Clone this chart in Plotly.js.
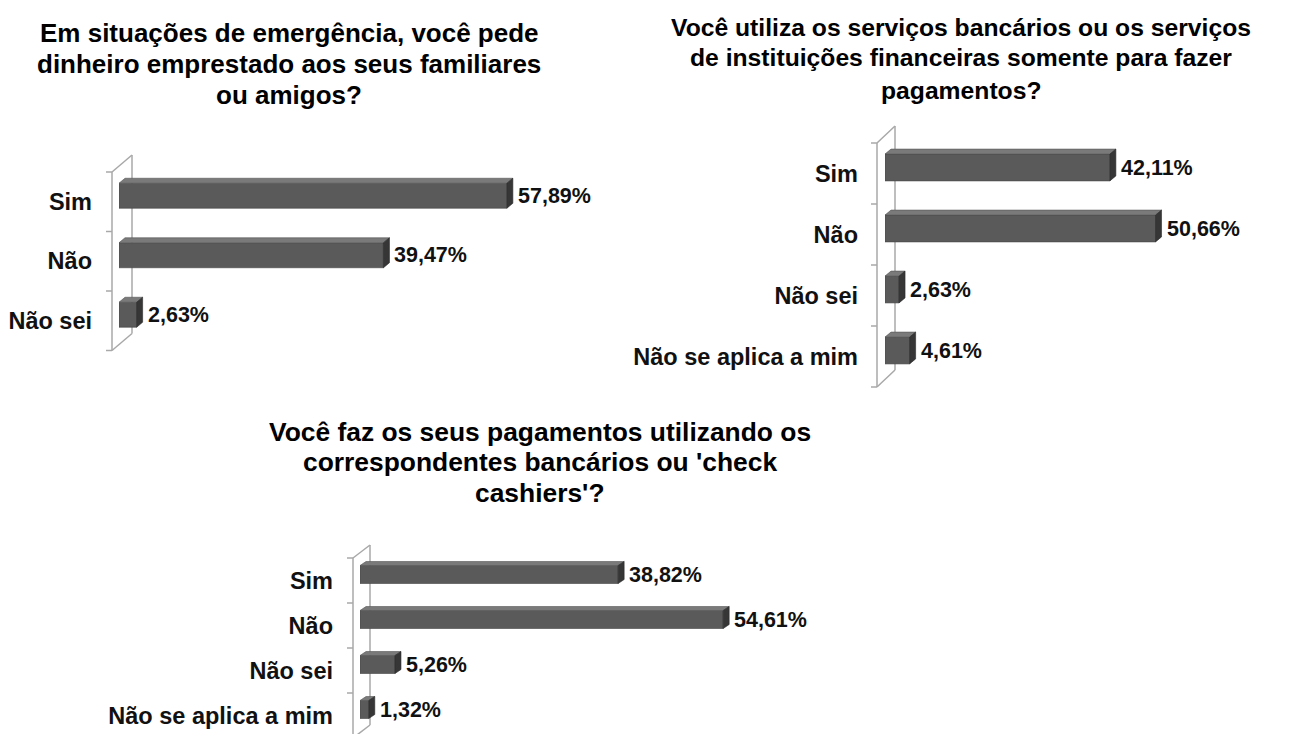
<!DOCTYPE html>
<html>
<head>
<meta charset="utf-8">
<script src="https://cdn.plot.ly/plotly-3.0.1.min.js"></script>
<style>html,body{margin:0;padding:0;background:#fff}#chart{width:1292px;height:734px}</style>
</head>
<body>
<div id="chart"></div>
<script>
// ---- data ----
const categories1 = ['Sim', 'Não', 'Não sei'];
const values1 = [57.89, 39.47, 2.63];
const title1 = ['Em situações de emergência, você pede', 'dinheiro emprestado aos seus familiares', 'ou amigos?'];

const categories2 = ['Sim', 'Não', 'Não sei', 'Não se aplica a mim'];
const values2 = [42.11, 50.66, 2.63, 4.61];
const title2 = ['Você utiliza os serviços bancários ou os serviços', 'de instituições financeiras somente para fazer', 'pagamentos?'];

const categories3 = ['Sim', 'Não', 'Não sei', 'Não se aplica a mim'];
const values3 = [38.82, 54.61, 5.26, 1.32];
const title3 = ['Você faz os seus pagamentos utilizando os', "correspondentes bancários ou 'check", "cashiers'?"];

// ---- layout geometry (pixels) ----
const W = 1292, H = 734;
const geo = [
  {x0: 119, pxPer: 6.70, w: 500, top: 166, catPx: 59.5, gap: 0.58, dx: 6, dy: 5,
   wf: [-7, 6], wb: [13, -11], tcx: 289, ty: [33, 64, 95], tsize: 26},
  {x0: 885, pxPer: 5.34, w: 400, top: 137, catPx: 61, gap: 0.56, dx: 6, dy: 5,
   wf: [-8, 6], wb: [10, -11], tcx: 961, ty: [27, 58, 90], tsize: 24.7},
  {x0: 360, pxPer: 6.65, w: 500, top: 552, catPx: 45, gap: 0.6, dx: 6, dy: 4,
   wf: [-7, 6], wb: [10, -7], tcx: 540, ty: [432, 462, 493], tsize: 26.4}
];

const font = 'Liberation Sans, Arial, sans-serif';
const textColor = '#111111';
const frontColor = '#5a5a5a';
const topColor = '#7a7a7a';
const sideColor = '#363636';
const wallColor = '#a8a8a8';

const fmt = v => v.toFixed(2).replace('.', ',') + '%';
const n = v => v.toFixed(4);

const sets = [
  {cats: categories1, vals: values1, title: title1},
  {cats: categories2, vals: values2, title: title2},
  {cats: categories3, vals: values3, title: title3}
];

const data = [];
const layout = {
  width: W, height: H, autosize: false,
  margin: {l: 0, r: 0, t: 0, b: 0},
  paper_bgcolor: '#ffffff', plot_bgcolor: 'rgba(0,0,0,0)',
  showlegend: false, bargap: 0.58,
  shapes: [], annotations: []
};

sets.forEach((s, k) => {
  const g = geo[k];
  const sfx = k === 0 ? '' : String(k + 1);
  const xa = 'x' + sfx, ya = 'y' + sfx;
  const N = s.cats.length;
  const idx = s.cats.map((c, i) => i);
  const kx = 1 / g.pxPer, ky = 1 / g.catPx;
  const half = (1 - g.gap) / 2;

  data.push({
    type: 'bar', orientation: 'h',
    x: s.vals, y: idx, width: 1 - g.gap,
    xaxis: xa, yaxis: ya,
    marker: {color: frontColor, line: {color: '#444444', width: 0.6}},
    hoverinfo: 'none'
  });

  layout['xaxis' + sfx] = {
    domain: [g.x0 / W, (g.x0 + g.w) / W], range: [0, g.w / g.pxPer],
    visible: false, fixedrange: true, anchor: ya
  };
  layout['yaxis' + sfx] = {
    domain: [1 - (g.top + N * g.catPx) / H, 1 - g.top / H],
    range: [N - 0.5, -0.5], anchor: xa, fixedrange: true,
    tickvals: idx.map(i => i + 6 * ky), ticktext: s.cats,
    showgrid: false, zeroline: false, showline: false, ticks: '',
    ticklabelstandoff: 26,
    tickfont: {family: font, size: 23.5, color: textColor, weight: 'bold'}
  };

  // 3D faces of the bars
  s.vals.forEach((v, i) => {
    const t = i - half, b = i + half;
    const dX = g.dx * kx, dY = g.dy * ky;
    layout.shapes.push({
      type: 'path', xref: xa, yref: ya, layer: 'above',
      path: `M0,${n(t)} L${n(v)},${n(t)} L${n(v + dX)},${n(t - dY)} L${n(dX)},${n(t - dY)} Z`,
      fillcolor: topColor, line: {color: '#555555', width: 0.6}
    });
    layout.shapes.push({
      type: 'path', xref: xa, yref: ya, layer: 'above',
      path: `M${n(v)},${n(t)} L${n(v)},${n(b)} L${n(v + dX)},${n(b - dY)} L${n(v + dX)},${n(t - dY)} Z`,
      fillcolor: sideColor, line: {color: '#2a2a2a', width: 0.6}
    });
    layout.annotations.push({
      xref: xa, yref: ya, x: v, y: i, xanchor: 'left', yanchor: 'middle',
      xshift: g.dx + 3, yshift: 0, showarrow: false, text: fmt(v),
      font: {family: font, size: 21.5, color: textColor, weight: 'bold'}
    });
  });

  // wall (axis decoration)
  const px = x => x / W, py = y => 1 - y / H;
  const bottom = g.top + N * g.catPx;
  const fx = g.x0 + g.wf[0], bx = g.x0 + g.wb[0];
  const fT = g.top + g.wf[1], fB = bottom + g.wf[1];
  const bT = g.top + g.wb[1], bB = bottom + g.wb[1];
  const wallLine = {color: wallColor, width: 1.5};
  const seg = (x1, y1, x2, y2) => layout.shapes.push({
    type: 'line', xref: 'paper', yref: 'paper', layer: 'below',
    x0: px(x1), y0: py(y1), x1: px(x2), y1: py(y2), line: wallLine
  });
  seg(fx, fT, fx, fB);
  seg(bx, bT, bx, bB);
  seg(fx, fT, bx, bT);
  seg(fx, fB, bx, bB);
  for (let i = 0; i <= N; i++) {
    const yy = fT + i * g.catPx;
    seg(fx - 6, yy, fx, yy);
  }

  // title lines
  s.title.forEach((line, j) => {
    layout.annotations.push({
      xref: 'paper', yref: 'paper', x: g.tcx / W, y: 1 - g.ty[j] / H,
      xanchor: 'center', yanchor: 'middle', showarrow: false, text: line,
      font: {family: font, size: g.tsize, color: '#000000', weight: 'bold'}
    });
  });
});

Plotly.newPlot('chart', data, layout, {staticPlot: true, displayModeBar: false});
</script>
</body>
</html>
